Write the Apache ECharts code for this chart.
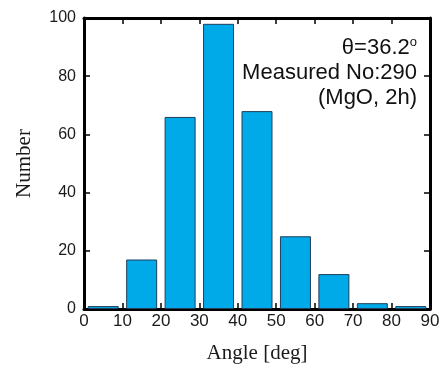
<!DOCTYPE html>
<html>
<head>
<meta charset="utf-8">
<script src="https://cdn.jsdelivr.net/npm/echarts@6/dist/echarts.min.js"></script>
<style>
  html, body { margin: 0; padding: 0; background: #fff; }
  #chart { width: 444px; height: 365px; }
</style>
</head>
<body>
<div id="chart"></div>
<script>
// bin centres (deg) and counts
const binCenters = [5, 15, 25, 35, 45, 55, 65, 75, 85];
const counts = [1, 17, 66, 98, 68, 25, 12, 2, 1];
const annotation = ["θ=36.2", "Measured No:290", "(MgO, 2h)"];

const chart = echarts.init(document.getElementById("chart"));

const axisLine = { show: true, onZero: false, lineStyle: { color: "#000", width: 3 } };
const tickStyle = { show: true, inside: true, length: 6, lineStyle: { color: "#000", width: 1.5 } };
const labelFont = { fontFamily: "Liberation Sans", fontSize: 17, color: "#1a1a1a" };
const titleFont = { fontFamily: "Liberation Serif", fontSize: 21, color: "#1a1a1a" };

chart.setOption({
  animation: false,
  grid: { left: 84, right: 14, top: 18, bottom: 56, outerBoundsMode: "none", containLabel: false },
  xAxis: [
    {
      type: "value",
      min: 0,
      max: 90,
      interval: 10,
      name: "Angle [deg]",
      nameLocation: "middle",
      nameGap: 34,
      nameTextStyle: titleFont,
      axisLine,
      axisTick: tickStyle,
      splitLine: { show: false },
      axisLabel: { ...labelFont, margin: 4 }
    },
    {
      type: "value",
      position: "top",
      min: 0,
      max: 90,
      interval: 10,
      axisLine,
      axisTick: tickStyle,
      axisLabel: { show: false },
      splitLine: { show: false }
    }
  ],
  yAxis: [
    {
      type: "value",
      min: 0,
      max: 100,
      interval: 20,
      name: "Number",
      nameLocation: "middle",
      nameGap: 49,
      nameTextStyle: titleFont,
      axisLine,
      axisTick: tickStyle,
      splitLine: { show: false },
      axisLabel: { ...labelFont, fontSize: 16, margin: 8 }
    },
    {
      type: "value",
      position: "right",
      min: 0,
      max: 100,
      interval: 20,
      axisLine,
      axisTick: tickStyle,
      axisLabel: { show: false },
      splitLine: { show: false }
    }
  ],
  series: [
    {
      type: "bar",
      data: binCenters.map((c, i) => [c, counts[i]]),
      barWidth: 31,
      itemStyle: { color: "#00aae8", borderColor: "#1d3f5c", borderWidth: 1 }
    }
  ],
  graphic: [
    {
      type: "text",
      right: 27,
      top: 36,
      style: {
        text: "{a|" + annotation[0] + "}{s|o}",
        rich: {
          a: { fontFamily: "Liberation Sans", fontSize: 22, fill: "#111" },
          s: { fontFamily: "Liberation Sans", fontSize: 13, fill: "#111", verticalAlign: "top", padding: [0, 0, 10, 0] }
        }
      }
    },
    {
      type: "text",
      right: 27,
      top: 62,
      style: { text: annotation[1], fontFamily: "Liberation Sans", fontSize: 22, fill: "#111" }
    },
    {
      type: "text",
      right: 27,
      top: 87,
      style: { text: annotation[2], fontFamily: "Liberation Sans", fontSize: 22, fill: "#111" }
    }
  ]
});
</script>
</body>
</html>
